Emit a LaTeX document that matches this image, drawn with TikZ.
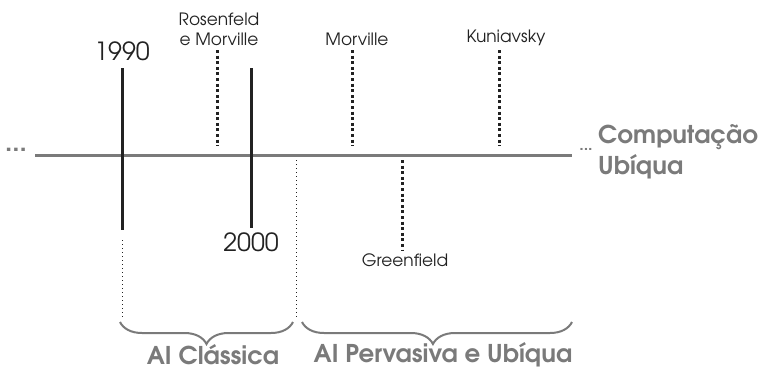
\documentclass[tikz,border=0pt]{standalone}
\usepackage{fontspec}
\setmainfont{TeX Gyre Adventor}
\usepackage{xcolor}
\usetikzlibrary{positioning,decorations.pathreplacing}
\definecolor{axisgray}{HTML}{7A7A7A}
\definecolor{ink}{HTML}{222222}
\tikzset{%
  axis/.style={line width=3pt,axisgray},
  period/.style={line width=3pt,ink},
  event/.style={line width=3pt,ink,dash pattern=on 3pt off 2.6pt},
  limit/.style={line width=1pt,ink,dash pattern=on 1pt off 3pt},
  era/.style={line width=2pt,axisgray,decorate,decoration={brace,mirror,amplitude=22pt,raise=0pt}},
  year/.style={font=\fontsize{25}{25}\selectfont,ink,inner sep=0pt},
  author/.style={font=\fontsize{17}{20}\selectfont,ink,inner sep=0pt,align=center},
  title/.style={font=\fontsize{24.5}{31}\selectfont\bfseries,axisgray,inner sep=0pt,align=left},
  more/.style={font=\fontsize{26}{26}\selectfont\bfseries,axisgray,inner sep=0pt},
}

\begin{document}
\begin{tikzpicture}[x=1pt,y=-1pt]
      \useasboundingbox (0,0) rectangle (762,368);

      \coordinate (start) at (35,155);
      \coordinate (end) at (572,155);
      \node[more] (lmore) at (16,150) {...};
      \node[more,font=\fontsize{16}{16}\selectfont\bfseries] (rmore) at (586,149) {...};
      \draw[axis] (start) -- (end);
      \node[title,anchor=west] (ubicomp) at (598,152) {Computação\\Ubíqua};

      \coordinate (a1990) at (122,68);
      \coordinate (b1990) at (122,230);
      \coordinate (c1990) at (122,240);
      \coordinate (d1990) at (122,318);
      \node[year,anchor=south] (y1990) at (122,61) {1990};
      \draw[period] (a1990) -- (b1990);
      \draw[limit] (c1990) -- (d1990);

      \coordinate (a2000) at (251,68);
      \coordinate (b2000) at (251,228);
      \node[year,anchor=north] (y2000) at (251,232) {2000};
      \draw[period] (a2000) -- (b2000);

      \coordinate (a2002) at (296,160);
      \coordinate (b2002) at (296,317);
      \draw[limit] (a2002) -- (b2002);

      \coordinate (rTop) at (217,50);
      \coordinate (rBot) at (217,146);
      \node[author,above=4pt of rTop,xshift=2pt] (rosenfeld) {Rosenfeld\\e Morville};
      \draw[event] (rTop) -- (rBot);

      \coordinate (mTop) at (352,50);
      \coordinate (mBot) at (352,146);
      \node[author,above=4pt of mTop,xshift=5pt] (morville) {Morville};
      \draw[event] (mTop) -- (mBot);

      \coordinate (kTop) at (499,50);
      \coordinate (kBot) at (499,146);
      \node[author,above=4pt of kTop,xshift=7pt] (kuniavsky) {Kuniavsky};
      \draw[event] (kTop) -- (kBot);

      \coordinate (gTop) at (402,160);
      \coordinate (gBot) at (402,250);
      \node[author,below=4pt of gBot,xshift=3pt] (greenfield) {Greenfield};
      \draw[event] (gTop) -- (gBot);

      \coordinate (e1a) at (120,322);
      \coordinate (e1b) at (293,322);
      \coordinate (e2a) at (302,322);
      \coordinate (e2b) at (572,322);
      \draw[era] (e1a) -- (e1b);
      \draw[era,decoration={aspect=0.485}] (e2a) -- (e2b);
      \node[title] (classica) at (213,355) {AI Clássica};
      \node[title] (pervasiva) at (443,355) {AI Pervasiva e Ubíqua};
    \end{tikzpicture}
\end{document}
